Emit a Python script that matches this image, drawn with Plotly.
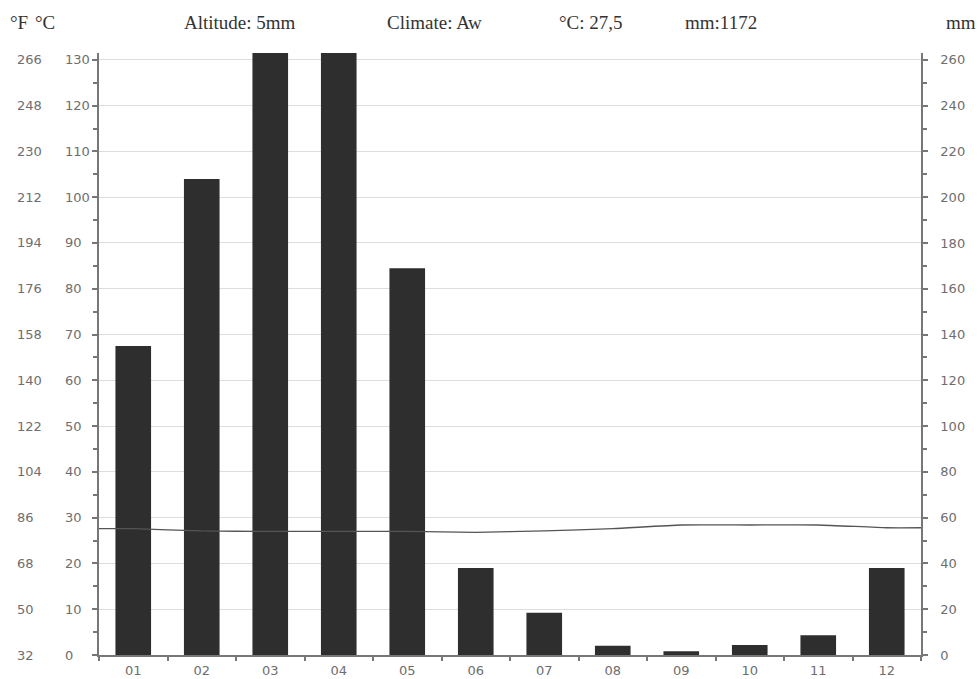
import plotly.graph_objects as go

months = ["01", "02", "03", "04", "05", "06", "07", "08", "09", "10", "11", "12"]
month_pos = [1, 2, 3, 4, 5, 6, 7, 8, 9, 10, 11, 12]
precip_mm = [135, 208, 270, 277, 169, 38, 18.5, 4, 1.6, 4.4, 8.6, 38]
temp_c = [27.6, 27.1, 27.0, 27.0, 27.0, 26.8, 27.1, 27.6, 28.4, 28.4, 28.4, 27.8]

c_ticks = [0, 10, 20, 30, 40, 50, 60, 70, 80, 90, 100, 110, 120, 130]
c_labels = ["0", "10", "20", "30", "40", "50", "60", "70", "80", "90", "100", "110", "120", "130"]
f_labels = ["32", "50", "68", "86", "104", "122", "140", "158", "176", "194", "212", "230", "248", "266"]
mm_ticks = [0, 20, 40, 60, 80, 100, 120, 140, 160, 180, 200, 220, 240, 260]

header = [("°F", 8), ("°C", 33), ("Altitude: 5mm", 182), ("Climate: Aw", 385),
          ("°C: 27,5", 557), ("mm:1172", 683), ("mm", 944)]

L, R, T, B = 99, 59, 53, 24
W, H = 980, 679

fig = go.Figure()
fig.add_trace(go.Bar(x=month_pos, y=precip_mm, yaxis="y", width=0.52,
                     marker=dict(color="#2e2e2e", line=dict(width=0))))
line_x = [0.5] + month_pos + [12.5]
line_y = [temp_c[0]] + temp_c + [temp_c[-1]]
fig.add_trace(go.Scatter(x=line_x, y=line_y, yaxis="y2", mode="lines",
                         line=dict(color="#555555", width=1.3, shape="spline", smoothing=0.5)))

tickfont = dict(family="DejaVu Sans", size=13, color="#6e6e6e")

annotations = []
for c, cl, fl in zip(c_ticks, c_labels, f_labels):
    annotations.append(dict(x=0, xref="paper", y=c, yref="y2", text=fl, showarrow=False,
                            xanchor="left", yanchor="middle", xshift=15 - L, font=tickfont))
    annotations.append(dict(x=0, xref="paper", y=c, yref="y2", text=cl, showarrow=False,
                            xanchor="left", yanchor="middle", xshift=63 - L, font=tickfont))
for txt, px in header:
    annotations.append(dict(x=0, xref="paper", y=1, yref="paper", text=txt, showarrow=False,
                            xanchor="left", yanchor="middle", xshift=px - L, yshift=T - 22,
                            font=dict(family="Liberation Serif", size=19, color="#333333")))

fig.update_layout(
    width=W, height=H, margin=dict(l=L, r=R, t=T, b=B, autoexpand=False),
    paper_bgcolor="white", plot_bgcolor="white", showlegend=False,
    annotations=annotations,
    xaxis=dict(range=[0.5, 12.5], tickvals=month_pos, ticktext=months, ticks="",
               showline=True, linecolor="#777777", linewidth=1.5, showgrid=False, zeroline=False,
               tickfont=tickfont, automargin=False, ticklabelstandoff=3,
               minor=dict(tickvals=[0.5 + i for i in range(13)], ticks="outside", ticklen=4,
                          tickcolor="#777777", tickwidth=1.5, showgrid=False)),
    yaxis=dict(range=[0, 263], side="right", tickvals=mm_ticks, ticks="outside", ticklen=5,
               tickcolor="#777777", tickwidth=1.5, showline=True, linecolor="#777777", linewidth=1.5,
               showgrid=True, gridcolor="#dddddd", gridwidth=1, zeroline=False, tickfont=tickfont,
               ticklabelstandoff=10, automargin=False,
               minor=dict(dtick=10, ticks="outside", ticklen=4, tickcolor="#777777", tickwidth=1.5,
                          showgrid=False)),
    yaxis2=dict(range=[0, 131.5], side="left", overlaying="y", tickvals=c_ticks, ticks="outside",
                ticklen=5, tickcolor="#777777", tickwidth=1.5, showline=True, linecolor="#777777",
                linewidth=1.5, showgrid=False, zeroline=False, showticklabels=False, automargin=False,
                minor=dict(dtick=5, ticks="outside", ticklen=4, tickcolor="#777777", tickwidth=1.5,
                           showgrid=False)),
)

fig.write_html("out.html", config={"displayModeBar": False},
               post_script="document.body.style.margin='0';document.body.style.overflow='hidden';")
